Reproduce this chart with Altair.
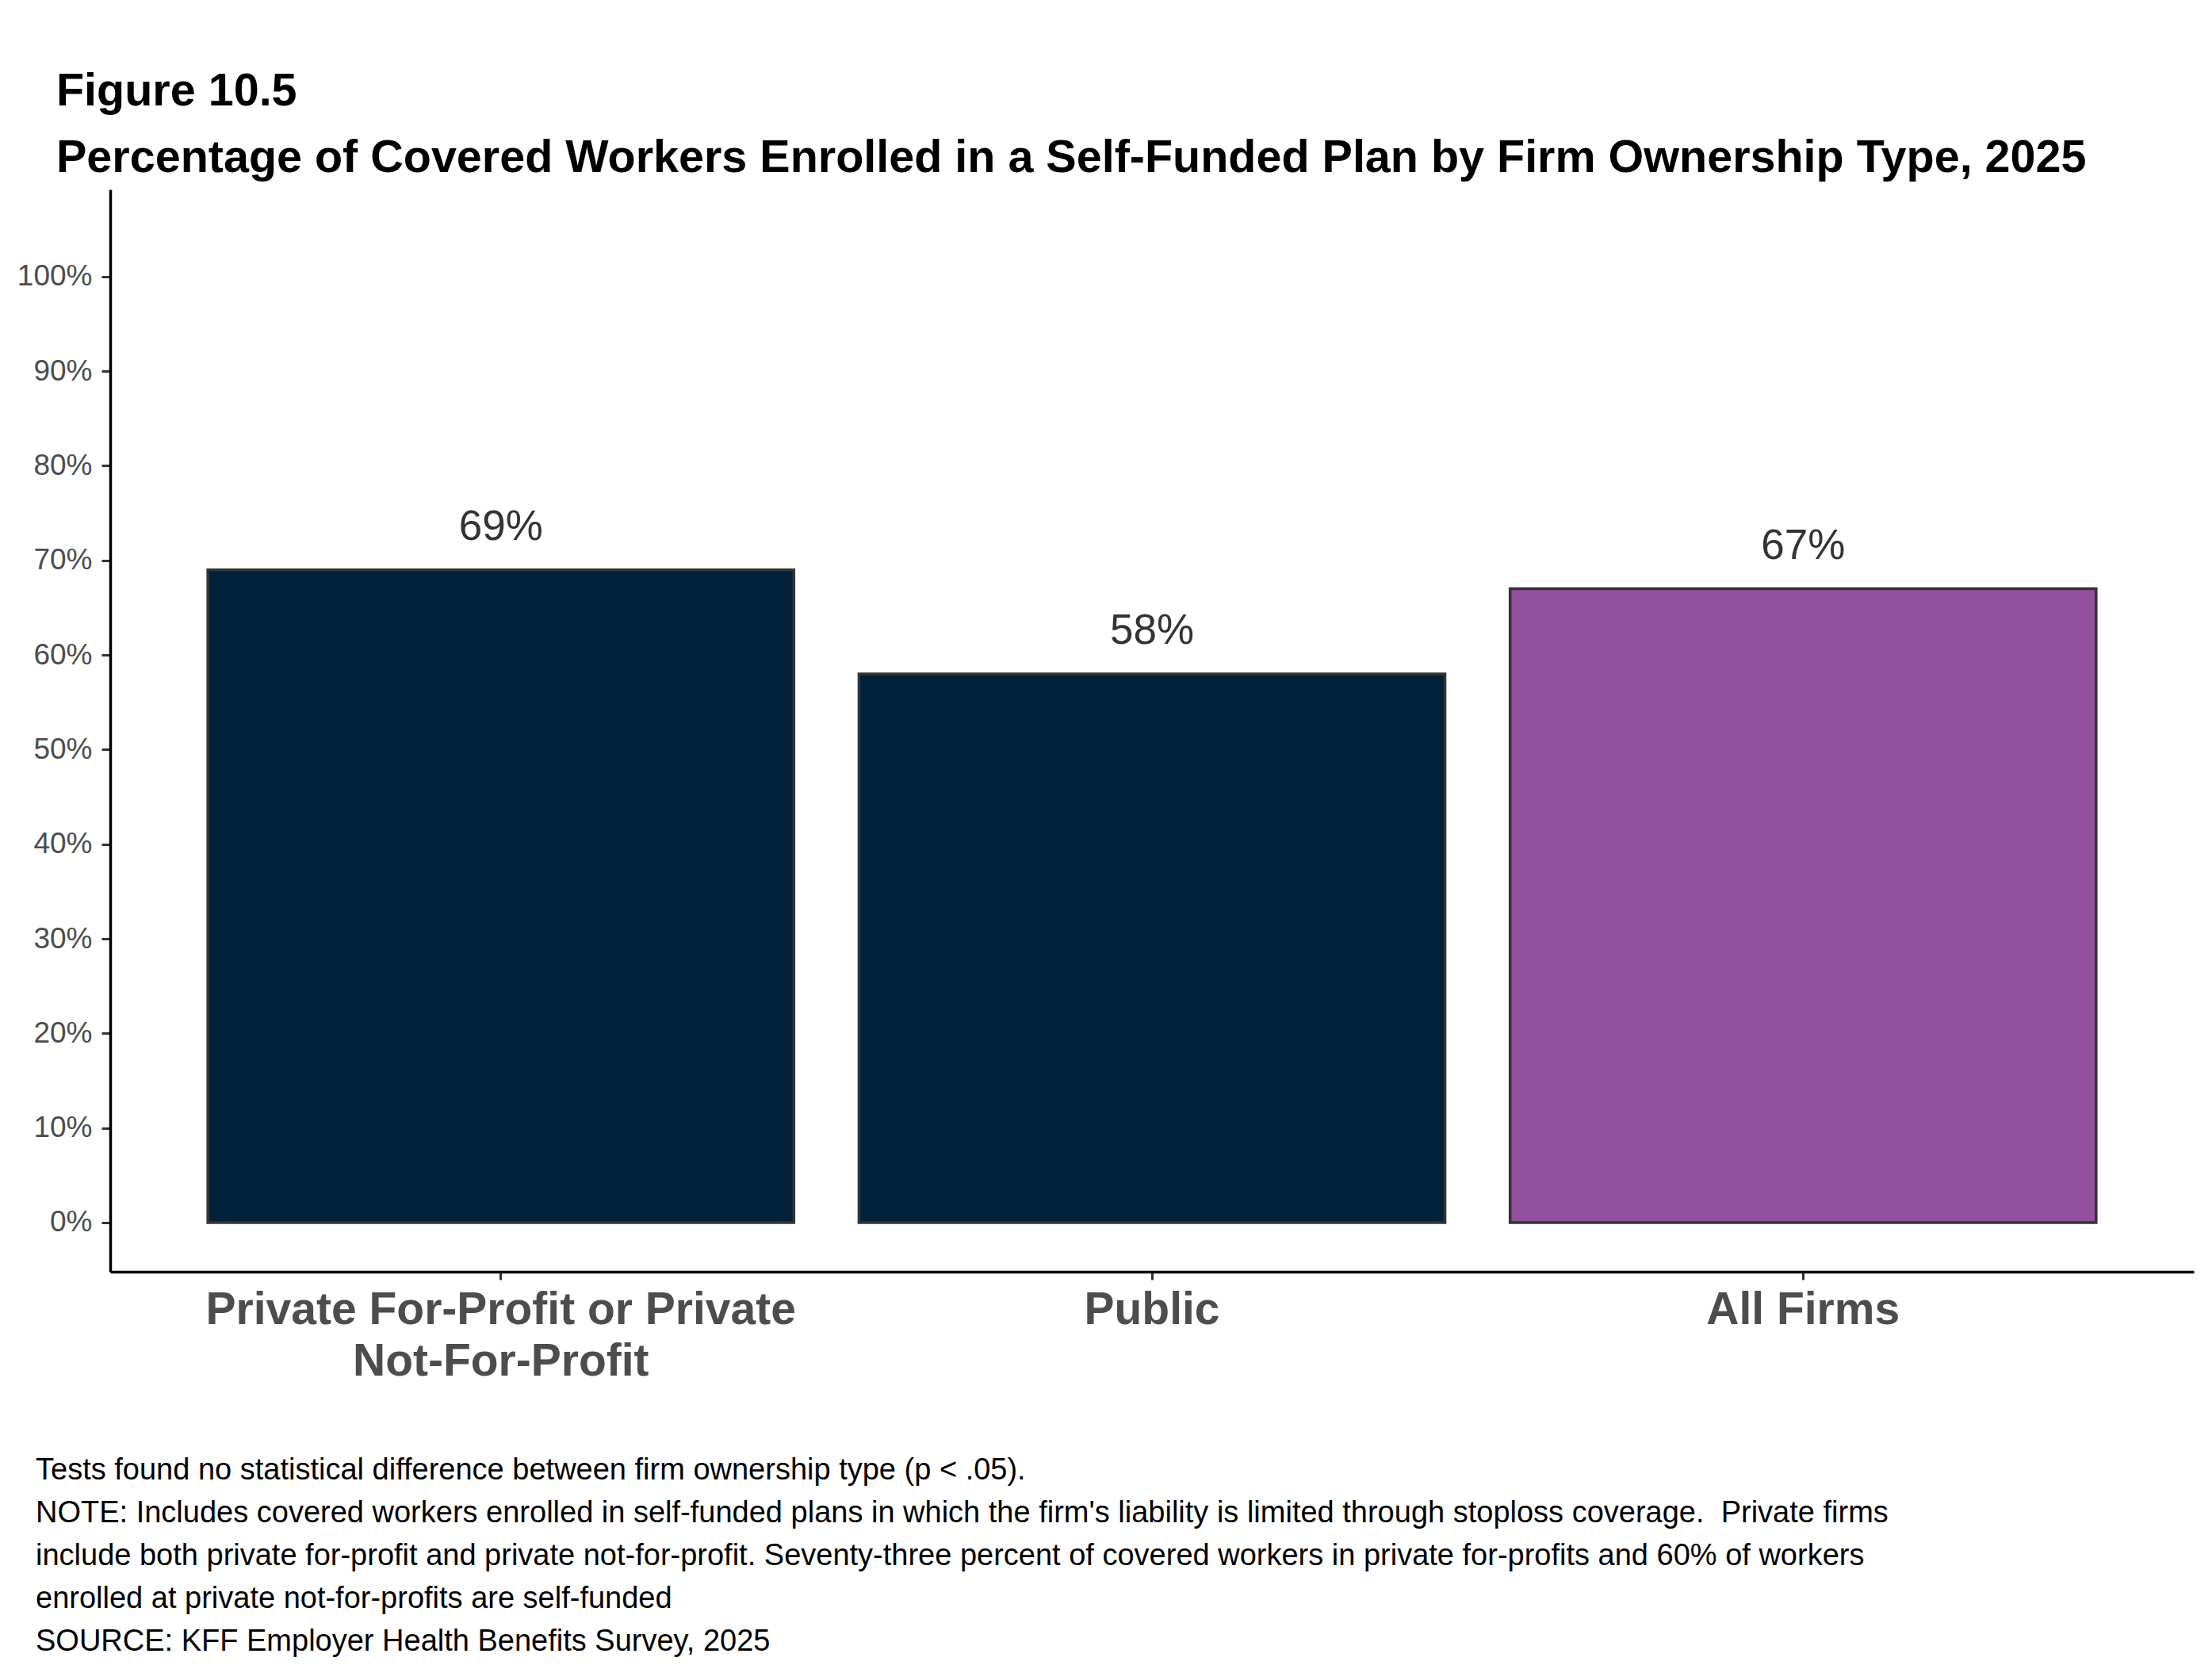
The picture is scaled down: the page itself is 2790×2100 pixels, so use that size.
import altair as alt
import pandas as pd

CATEGORIES = ["Private For-Profit or Private Not-For-Profit", "Public", "All Firms"]
VALUES = [69, 58, 67]
LABELS = ["69%", "58%", "67%"]
COLORS = ["#01203A", "#01203A", "#93509E"]
Y_TICKS = [0, 10, 20, 30, 40, 50, 60, 70, 80, 90, 100]
TITLE_LINES = [
    "Figure 10.5",
    "Percentage of Covered Workers Enrolled in a Self-Funded Plan by Firm Ownership Type, 2025",
]
FOOTNOTES = [
    "Tests found no statistical difference between firm ownership type (p < .05).",
    "NOTE: Includes covered workers enrolled in self-funded plans in which the firm's liability is limited through stoploss coverage.\u00a0 Private firms",
    "include both private for-profit and private not-for-profit. Seventy-three percent of covered workers in private for-profits and 60% of workers",
    "enrolled at private not-for-profits are self-funded",
    "SOURCE: KFF Employer Health Benefits Survey, 2025",
]

df = pd.DataFrame({"cat": CATEGORIES, "value": VALUES, "label": LABELS})

FONT = "Liberation Sans"
W, H = 2628, 1365

x_enc = alt.X(
    "cat:N",
    sort=CATEGORIES,
    scale=alt.Scale(paddingInner=0.1, paddingOuter=0.15),
    axis=alt.Axis(
        title=None,
        labelAngle=0,
        labelFont=FONT,
        labelFontSize=57,
        labelFontWeight="bold",
        labelColor="#4D4D4D",
        labelPadding=10,
        labelLineHeight=65,
        labelBaseline="top",
        labelLimit=2000,
        labelExpr="datum.label == 'Private For-Profit or Private Not-For-Profit' ? ['Private For-Profit or Private', 'Not-For-Profit'] : datum.label",
        tickSize=10,
        tickWidth=3,
        tickColor="#333333",
        domainColor="#000000",
        domainWidth=3.5,
        grid=False,
    ),
)

y_scale = alt.Scale(domain=[-5.2, 109.2], nice=False, zero=False)

bars = alt.Chart(df).mark_bar(stroke="#333333", strokeWidth=3.5).encode(
    x=x_enc,
    y=alt.Y(
        "value:Q",
        scale=y_scale,
        axis=alt.Axis(
            title=None,
            values=Y_TICKS,
            labelExpr="datum.value + '%'",
            labelFont=FONT,
            labelFontSize=37,
            labelColor="#4D4D4D",
            labelPadding=12,
            tickSize=11,
            tickWidth=3,
            tickColor="#333333",
            domainColor="#000000",
            domainWidth=3.5,
            grid=False,
        ),
    ),
    y2=alt.datum(0),
    fill=alt.Fill("cat:N", scale=alt.Scale(domain=CATEGORIES, range=COLORS), legend=None),
)

labels = alt.Chart(df).mark_text(
    font=FONT, fontSize=53, color="#333333", baseline="alphabetic", dy=-38
).encode(
    x=alt.X("cat:N", sort=CATEGORIES),
    y=alt.Y("value:Q", scale=y_scale),
    text="label:N",
)

title = alt.Chart(alt.Data(values=[{}])).mark_text(
    text=TITLE_LINES,
    font=FONT,
    fontSize=57.5,
    fontWeight="bold",
    color="#000000",
    align="left",
    baseline="alphabetic",
    lineHeight=84,
).encode(x=alt.value(-68), y=alt.value(-106))

notes = alt.Chart(alt.Data(values=[{}])).mark_text(
    text=FOOTNOTES,
    font=FONT,
    fontSize=38,
    color="#000000",
    align="left",
    baseline="alphabetic",
    lineHeight=54,
).encode(x=alt.value(-94), y=alt.value(1627))

chart = (
    alt.layer(bars, labels, title, notes)
    .properties(
        width=W,
        height=H,
        padding={"left": 131, "top": 231, "right": 15, "bottom": 488},
        autosize=alt.AutoSizeParams(type="none"),
        background="#FFFFFF",
    )
    .configure_view(stroke=None)
)

chart.save("out.html", embed_options={"renderer": "svg", "actions": False})
